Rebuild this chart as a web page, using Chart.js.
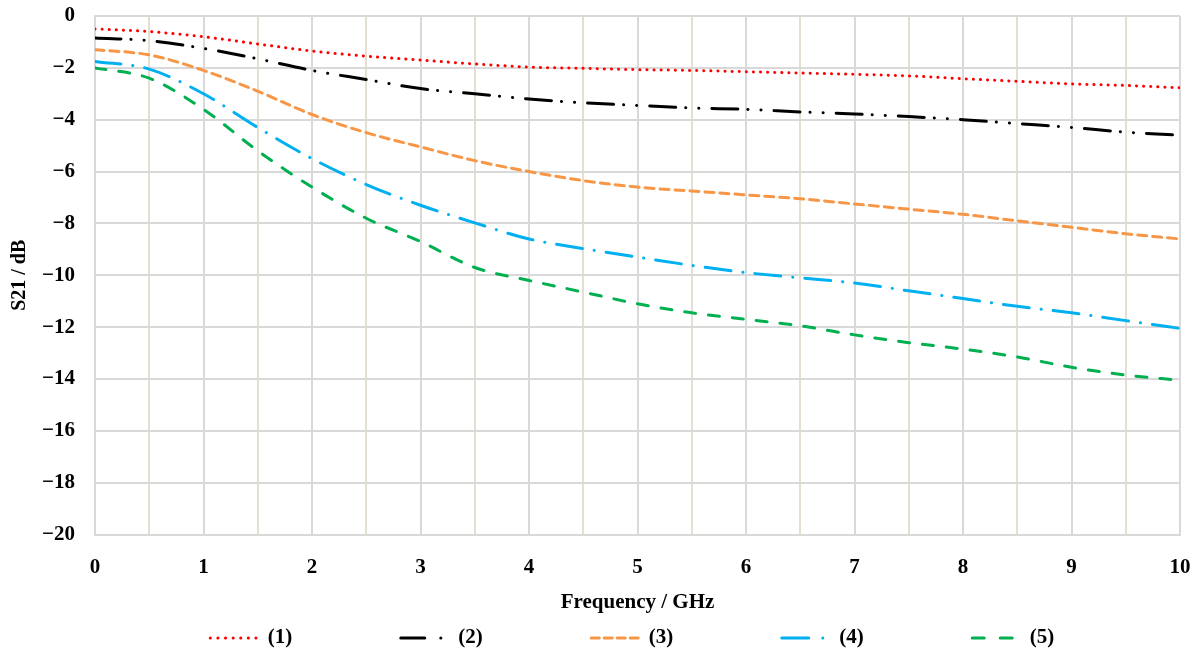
<!DOCTYPE html>
<html>
<head>
<meta charset="utf-8">
<script src="https://cdn.jsdelivr.net/npm/chart.js@4"></script>
<style>
  html, body { margin:0; padding:0; background:#fff; }
  #wrap { width:1202px; height:652px; }
</style>
</head>
<body>
<div id="wrap"><canvas id="c" width="1202" height="652"></canvas></div>
<script>
// frequency points, GHz
const freqs = [0,0.5,1,1.5,2,2.5,3,3.5,4,4.5,5,5.5,6,6.5,7,7.5,8,8.5,9,9.5,10];

// S21 in dB
const s1 = [-0.5,-0.6,-0.8,-1.08,-1.35,-1.55,-1.7,-1.85,-1.97,-2.02,-2.07,-2.1,-2.15,-2.2,-2.25,-2.31,-2.42,-2.52,-2.62,-2.68,-2.77];
const s2 = [-0.85,-0.95,-1.25,-1.65,-2.1,-2.45,-2.8,-3.0,-3.2,-3.35,-3.45,-3.55,-3.6,-3.7,-3.78,-3.88,-4.0,-4.15,-4.3,-4.48,-4.6];
const s3 = [-1.3,-1.5,-2.1,-2.9,-3.8,-4.5,-5.05,-5.58,-6.0,-6.35,-6.6,-6.75,-6.9,-7.05,-7.25,-7.45,-7.65,-7.9,-8.15,-8.4,-8.6];
const s4 = [-1.75,-2.05,-3.0,-4.3,-5.5,-6.5,-7.3,-7.98,-8.6,-8.97,-9.3,-9.62,-9.9,-10.1,-10.3,-10.6,-10.9,-11.2,-11.45,-11.75,-12.05];
const s5 = [-2.0,-2.4,-3.6,-5.2,-6.6,-7.8,-8.7,-9.7,-10.2,-10.65,-11.1,-11.45,-11.7,-11.95,-12.3,-12.6,-12.85,-13.15,-13.55,-13.85,-14.05];

const names = ['(1)','(2)','(3)','(4)','(5)'];
const colors = ['#ff0000','#000000','#f79646','#00b0f0','#00b050'];
const dashes = [[0.1,7],[26,10,0.1,13,0.1,13],[9,6],[26,12,0.1,12],[11,13]];
const legendDashes = [[0.1,7.5],[24,16,0.1,40],[8,5],[27,14,0.1,40],[12,16]];

const series = [s1,s2,s3,s4,s5];
const pts = arr => arr.map((v,i)=>({x:freqs[i], y:v}));

// trailing blanks to spread the legend entries like the original
const sp = '\u2003\u2003\u2003\u2003\u2002';
const gapAfter = [sp, sp, sp, sp, '\u2002'];

const serif = "'Liberation Serif','Times New Roman',serif";
const minus = v => v < 0 ? '\u2212' + Math.abs(v) : String(v);

new Chart(document.getElementById('c'), {
  type:'line',
  data:{
    datasets: series.map((s,i)=>({
      label:names[i],
      data:pts(s),
      borderColor:colors[i],
      backgroundColor:colors[i],
      borderWidth:3,
      borderDash:dashes[i],
      borderCapStyle:'round',
      pointRadius:0,
      cubicInterpolationMode:'monotone',
      fill:false
    }))
  },
  options:{
    responsive:false,
    animation:false,
    layout:{ padding:{ left:8, right:22, top:0, bottom:-6.5 } },
    plugins:{
      legend:{
        position:'bottom',
        fullSize:false,
        labels:{
          usePointStyle:true,
          pointStyle:'line',
          pointStyleWidth:47,
          boxWidth:47,
          boxHeight:3,
          padding:14,
          color:'#000',
          font:{ family:serif, size:21, weight:'bold' },
          generateLabels:chart => chart.data.datasets.map((ds,i)=>({
            text:ds.label + gapAfter[i],
            fillStyle:ds.borderColor,
            strokeStyle:ds.borderColor,
            lineWidth:3,
            lineDash:legendDashes[i],
            lineCap:'round',
            pointStyle:'line',
            fontColor:'#000',
            hidden:false,
            datasetIndex:i
          }))
        }
      },
      tooltip:{ enabled:false }
    },
    scales:{
      x:{
        type:'linear',
        min:0, max:10,
        ticks:{
          stepSize:0.5,
          padding:20,
          color:'#000',
          maxRotation:0,
          autoSkip:false,
          font:{ family:serif, size:21, weight:'bold' },
          callback:v => Number.isInteger(v) ? v : ''
        },
        grid:{
          drawTicks:false,
          lineWidth:2,
          color:c => (c.tick && Number.isInteger(c.tick.value)) ? '#d9d9d9' : '#e4dfd0'
        },
        border:{ color:'#d9d9d9', width:2 },
        title:{
          display:true,
          text:'Frequency / GHz',
          color:'#000',
          padding:{ top:0, bottom:-2 },
          font:{ family:serif, size:21, weight:'bold' }
        },
        afterFit:s => { s.height = 79; s.paddingLeft = 0; s.paddingRight = 0; }
      },
      y:{
        min:-20, max:0,
        ticks:{
          stepSize:2,
          padding:20,
          color:'#000',
          font:{ family:serif, size:21, weight:'bold' },
          callback:minus
        },
        grid:{ drawTicks:false, lineWidth:2, color:'#d9d9d9' },
        border:{ color:'#d9d9d9', width:2 },
        title:{
          display:true,
          text:'S21 / dB',
          color:'#000',
          padding:{ top:0, bottom:4 },
          font:{ family:serif, size:20, weight:'bold' }
        },
        afterFit:s => { s.width = 87; s.paddingTop = 16; s.paddingBottom = 0; }
      }
    }
  }
});
</script>
</body>
</html>
